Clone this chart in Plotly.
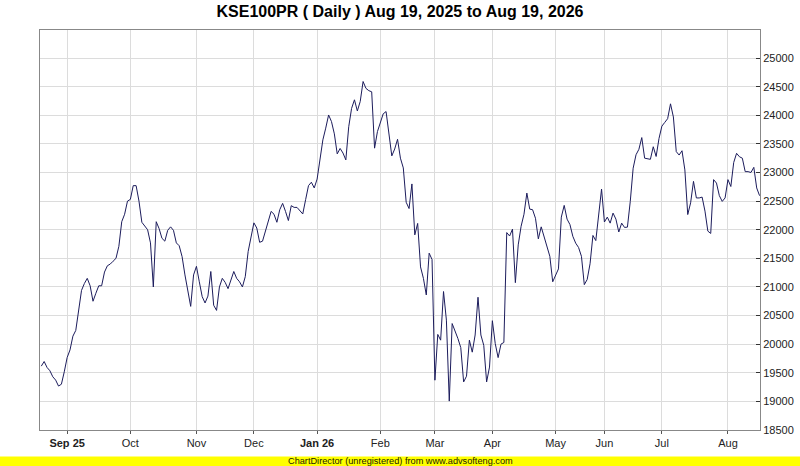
import plotly.graph_objects as go

# KSE100PR daily closes, one per trading day (index 0 = Aug 19, 2025)
closes = [
    19616, 19697, 19593, 19535, 19430, 19372, 19268, 19300, 19517, 19766,
    19900, 20140, 20240, 20560, 20940, 21060, 21150, 21020, 20750, 20890,
    21020, 21020, 21260, 21370, 21400, 21450, 21500, 21710, 22140, 22270,
    22500, 22530, 22770, 22770, 22500, 22130, 22060, 22000, 21770, 21000,
    22140, 22020, 21850, 21800, 21990, 22050, 21990, 21770, 21720, 21530,
    21210, 20900, 20660, 21210, 21360, 21090, 20830, 20720, 20840, 21270,
    20680, 20590, 21000, 21150, 21080, 20970, 21120, 21270, 21150, 21090,
    21000, 21180, 21620, 21900, 22120, 22030, 21780, 21800, 21970, 22140,
    22320, 22270, 22130, 22350, 22460, 22320, 22160, 22420, 22390, 22390,
    22340, 22275, 22525, 22770, 22830, 22730, 22885, 23220, 23570, 23775,
    24005, 23890, 23675, 23325, 23420, 23340, 23220, 23800, 24120, 24270,
    24075, 24240, 24590, 24470, 24430, 24410, 23425, 23715, 23860, 24025,
    24065, 23630, 23290, 23410, 23580, 23250, 23080, 22480, 22370, 22800,
    21910, 22110, 21350, 21150, 20860, 21590, 21480, 19370, 20170, 20070,
    20920, 20420, 19005, 20360, 20240, 20100, 19940, 19340, 19440, 20070,
    19860, 20160, 20820, 20160, 19980, 19340, 19600, 20410, 20010, 19765,
    20000, 20030, 21950, 21890, 22010, 21075, 21735, 22060, 22270, 22640,
    22360, 22350, 22200, 21840, 22050, 21885, 21740, 21535, 21090, 21200,
    21315, 22220, 22425, 22185, 22090, 21885, 21765, 21690, 21535, 21040,
    21130, 21405, 21900, 21810, 22235, 22710, 22135, 22220, 22115, 22290,
    22185, 21960, 22115, 22040, 22045, 22495, 23075, 23310, 23405, 23610,
    23250, 23240, 23230, 23450, 23280, 23595, 23810, 23875, 23940, 24200,
    23970, 23365, 23305, 23380, 23045, 22265, 22470, 22845, 22555, 22555,
    22570, 22325, 21975, 21935, 22875, 22815, 22595, 22495, 22555, 22875,
    22755, 23175, 23335, 23275, 23250, 23015, 23015, 23000, 23090, 22730,
    22595,
]

# first trading day of each month (index into closes)
month_idx = [9, 31, 54, 74, 96, 118, 137, 157, 179, 196, 216, 239]
month_labels = ['<b>Sep 25</b>', 'Oct', 'Nov', 'Dec', '<b>Jan 26</b>', 'Feb',
                'Mar', 'Apr', 'May', 'Jun', 'Jul', 'Aug']

y_ticks = list(range(18500, 25001, 500))

fig = go.Figure()

fig.add_trace(go.Scatter(
    x = list(range(len(closes))),
    y = closes,
    mode = 'lines',
    line = dict(color = '#1c1c5c', width = 1),
    hoverinfo = 'y',
))

fig.update_layout(
    width = 800,
    height = 466,
    margin = dict(l = 40, r = 40, t = 30, b = 36, autoexpand = False),
    paper_bgcolor = 'white',
    plot_bgcolor = 'white',
    showlegend = False,
    font = dict(family = 'Liberation Sans, Arial, sans-serif', size = 11, color = '#222222'),
    title = dict(
        text = '<b>KSE100PR ( Daily ) Aug 19, 2025 to Aug 19, 2026</b>',
        x = 0.5, xanchor = 'center',
        y = 1 - 11 / 466, yanchor = 'middle',
        font = dict(size = 16, color = '#000000'),
    ),
    xaxis = dict(
        range = [-0.45, 250.15],
        tickmode = 'array',
        tickvals = month_idx,
        ticktext = month_labels,
        showgrid = True,
        gridcolor = '#dcdcdc',
        gridwidth = 1,
        showline = True,
        mirror = True,
        linecolor = '#888888',
        linewidth = 1,
        ticks = 'outside',
        ticklen = 3,
        tickcolor = '#555555',
        zeroline = False,
        automargin = False,
    ),
    yaxis = dict(
        range = [18500, 25490],
        side = 'right',
        tickmode = 'array',
        tickvals = y_ticks,
        ticktext = [str(v) for v in y_ticks],
        showgrid = True,
        gridcolor = '#dcdcdc',
        gridwidth = 1,
        showline = True,
        mirror = True,
        linecolor = '#888888',
        linewidth = 1,
        ticks = 'inside',
        ticklen = 4,
        tickcolor = '#333333',
        zeroline = False,
        automargin = False,
    ),
)

# yellow "unregistered" strip along the bottom
fig.add_shape(
    type = 'rect', xref = 'paper', yref = 'paper',
    x0 = -40 / 720, x1 = 1 + 40 / 720,
    y0 = -26.5 / 400, y1 = -40 / 400,
    fillcolor = '#ffff00', line = dict(width = 0), layer = 'below',
)
fig.add_annotation(
    text = 'ChartDirector (unregistered) from www.advsofteng.com',
    xref = 'paper', yref = 'paper',
    x = 0.5, y = -31 / 400,
    xanchor = 'center', yanchor = 'middle',
    showarrow = False,
    font = dict(size = 9.2, color = '#222200'),
)

# drop the browser's default page margin so the chart sits at the top-left corner
fig.write_html('out.html', config = dict(displayModeBar = False),
               post_script = "document.body.style.margin = '0';")
